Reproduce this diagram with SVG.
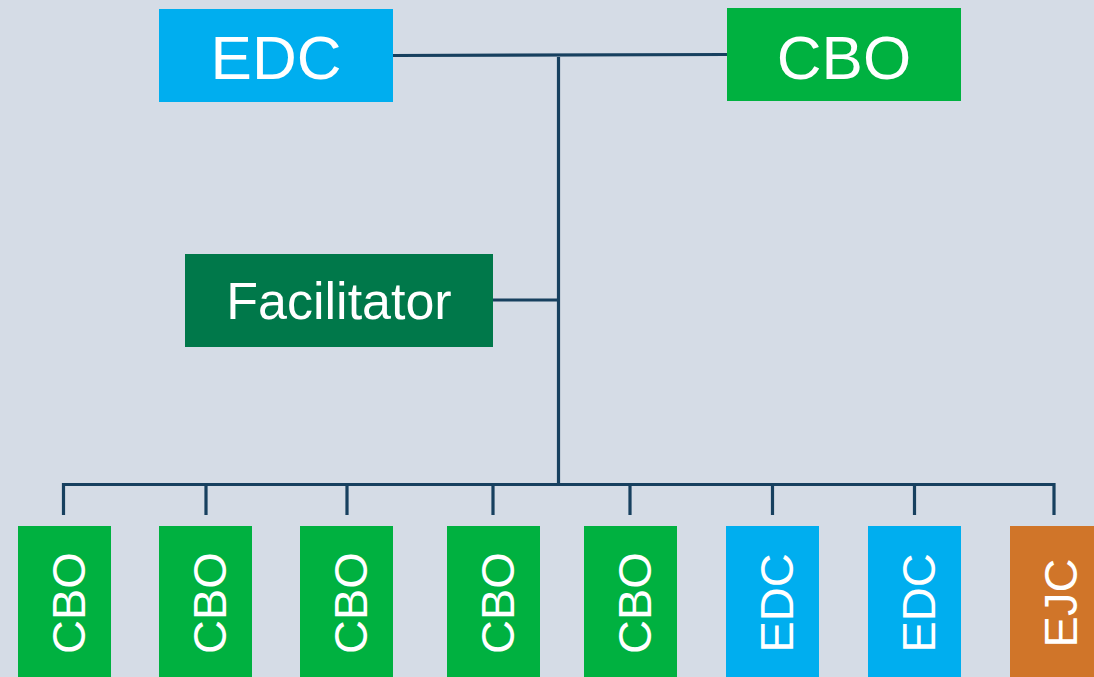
<svg xmlns="http://www.w3.org/2000/svg" width="1094" height="677" viewBox="0 0 1094 677">
<style>
.bg{fill:#D5DCE6}
.blue{fill:#00AEEF}
.green{fill:#00B140}
.dgreen{fill:#00784A}
.orange{fill:#D07529}
.t{fill:#FFFFFF;font-family:"Liberation Sans",Arial,sans-serif;text-anchor:middle}
.big{font-size:62px}
.mid{font-size:52px}
.sm{font-size:47px}
.c{fill:none;stroke:#17405F;stroke-width:3.2}
</style>
<rect class="bg" x="0" y="0" width="1094" height="677"/>
<g id="connectors">
<path class="c" d="M393,55.5 L727,54.5"/>
<path class="c" d="M558.5,57 L558.5,484"/>
<path class="c" d="M493,300 L558.5,300"/>
<path class="c" d="M63.5,515 L63.5,484.5 L1054,484.5 L1054,515"/>
<path class="c" d="M206,484.5 V515 M347,484.5 V515 M493,484.5 V515 M630,484.5 V515 M772.5,484.5 V515 M914.5,484.5 V515"/>
</g>
<g id="edc-top"><rect class="blue" x="159" y="9" width="234" height="93"/><text class="t big" x="276" y="79">EDC</text></g>
<g id="cbo-top"><rect class="green" x="727" y="8" width="234" height="93"/><text class="t big" x="844" y="78.5">CBO</text></g>
<g id="facilitator"><rect class="dgreen" x="185" y="254" width="308" height="93"/><text class="t mid" x="339" y="318.5">Facilitator</text></g>
<g id="cbo1"><rect class="green" x="18" y="526" width="93" height="160"/><text class="t sm" transform="translate(85,603) rotate(-90)">CBO</text></g>
<g id="cbo2"><rect class="green" x="159" y="526" width="93" height="160"/><text class="t sm" transform="translate(226,603) rotate(-90)">CBO</text></g>
<g id="cbo3"><rect class="green" x="300" y="526" width="93" height="160"/><text class="t sm" transform="translate(367,603) rotate(-90)">CBO</text></g>
<g id="cbo4"><rect class="green" x="447" y="526" width="93" height="160"/><text class="t sm" transform="translate(514,603) rotate(-90)">CBO</text></g>
<g id="cbo5"><rect class="green" x="584" y="526" width="93" height="160"/><text class="t sm" transform="translate(651,603) rotate(-90)">CBO</text></g>
<g id="edc1"><rect class="blue" x="726" y="526" width="93" height="160"/><text class="t sm" transform="translate(792.5,603) rotate(-90)">EDC</text></g>
<g id="edc2"><rect class="blue" x="868" y="526" width="93" height="160"/><text class="t sm" transform="translate(934.5,603) rotate(-90)">EDC</text></g>
<g id="ejc"><rect class="orange" x="1010" y="526" width="93" height="160"/><text class="t sm" transform="translate(1076.5,603) rotate(-90)">EJC</text></g>
</svg>
